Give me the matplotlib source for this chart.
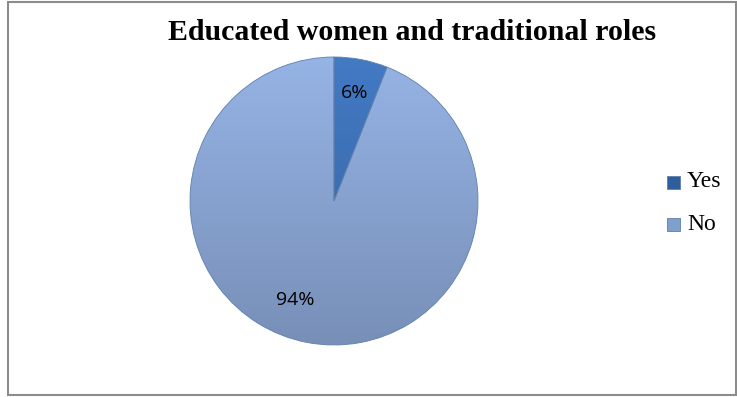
import numpy as np
import matplotlib
matplotlib.use("Agg")
import matplotlib.pyplot as plt
from matplotlib.patches import Rectangle

title = "Educated women and traditional roles"
labels = ["Yes", "No"]
shares = [6, 94]
colors = ["#3F73B9", "#8DA9D8"]

W, H = 737, 397
dpi = 100
fig = plt.figure(figsize=(W / dpi, H / dpi), dpi=dpi)
fig.patch.set_facecolor("white")

# outer frame of the chart area
fig.patches.append(Rectangle((8 / W, 2 / H), 728 / W, 393 / H, transform=fig.transFigure,
                             fill=False, edgecolor="#8c8c8c", linewidth=1.5))

# pie placed by pixel geometry: centre (334, 201) from top, radius 144
cx, cy, r = 334, H - 201, 144
ax = fig.add_axes([(cx - r) / W, (cy - r) / H, 2 * r / W, 2 * r / H])
wedges, texts, autotexts = ax.pie(
    shares, colors=colors, startangle=90, counterclock=False, radius=1.0,
    autopct="%d%%", pctdistance=0.76,
    wedgeprops=dict(edgecolor="#5f7fae", linewidth=0.6),
    textprops=dict(fontsize=14, family=["Open Sans", "DejaVu Sans"], color="black"))
ax.set_xlim(-1, 1)
ax.set_ylim(-1, 1)
ax.set_aspect("equal")
ax.axis("off")

# vertical shading over each wedge: lighter top, darker bottom
grad = np.linspace(0, 1, 256).reshape(-1, 1)
for w, c in zip(wedges, colors):
    base = np.array(matplotlib.colors.to_rgb(c))
    top = np.clip(base * 1.06, 0, 1)
    bot = base * 0.85
    img = top[None, None, :] * (1 - grad[..., None]) + bot[None, None, :] * grad[..., None]
    im = ax.imshow(img, extent=(-1, 1, -1, 1), origin="upper", zorder=2, aspect="auto")
    im.set_clip_path(w)
for w in wedges:
    w.set_facecolor("none")
    w.set_zorder(3)
for t in autotexts:
    t.set_zorder(5)
autotexts[1].set_position((-0.27, -0.69))

fig.text(412 / W, 1 - 40 / H, title, ha="center", va="baseline",
         family="Liberation Serif", fontweight="bold", fontsize=21.5)

# legend
leg_y = [1 - 182 / H, 1 - 224 / H]
marker_cols = ["#2F5E9E", "#819FCB"]
for lab, c, yy in zip(labels, marker_cols, leg_y):
    fig.patches.append(Rectangle((667 / W, yy - 7 / H), 13 / W, 13 / H, transform=fig.transFigure,
                                 facecolor=c, edgecolor="#5f7fae", linewidth=0.6))
    fig.text(687 / W, yy, lab, ha="left", va="center", family="Liberation Serif", fontsize=17)

fig.savefig("out.png", dpi=dpi)
